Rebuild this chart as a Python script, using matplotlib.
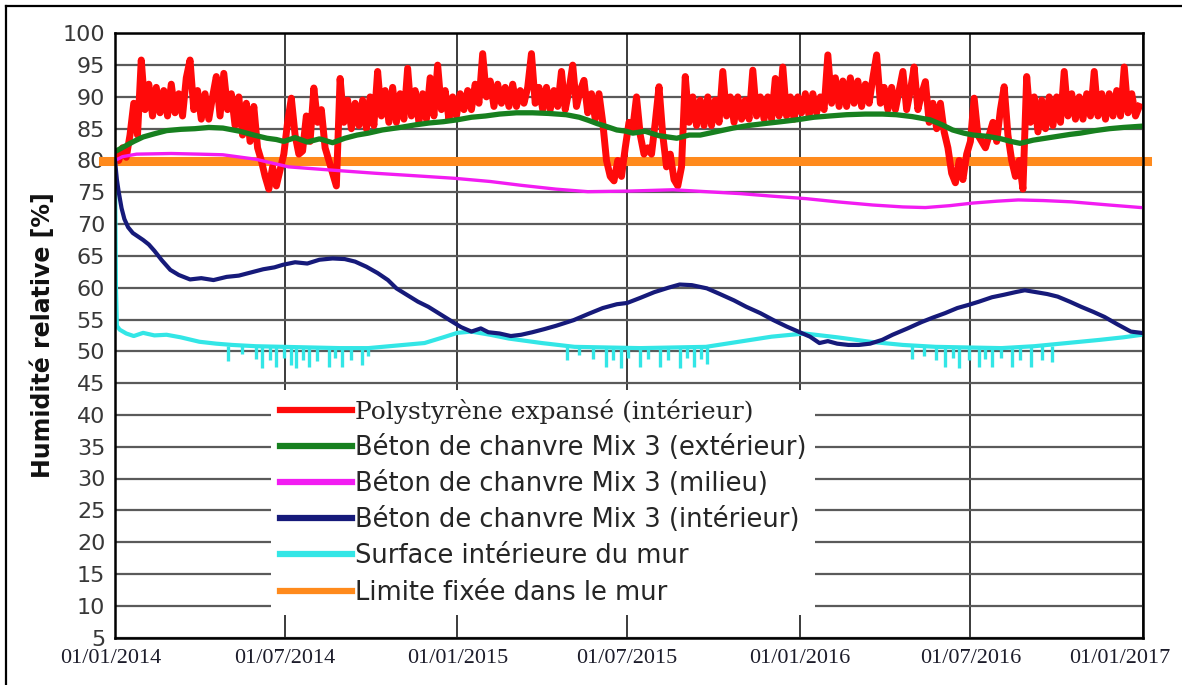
import matplotlib
matplotlib.use('Agg')
import matplotlib.pyplot as plt
import matplotlib.dates as mdates
import numpy as np
from matplotlib.lines import Line2D

# relative humidity [%], days counted from 01/01/2014
red_step = 4
polystyrene = [
    81, 80, 82, 80.5, 84, 89, 84, 95.8, 88, 92,
    87, 91.5, 87.5, 91, 87, 92, 87.5, 90.5, 87, 93,
    95.8, 88, 91, 86.5, 90.5, 86.5, 90, 93.2, 87, 93.7,
    88, 90.5, 85.5, 90, 84, 89, 83, 88.5, 82, 80,
    77.5, 75.5, 79, 76, 78.5, 81, 86, 89.8, 84, 81,
    81.5, 87, 83, 91.4, 86, 88, 82, 80, 78, 76,
    92.9, 86, 89.5, 85, 89, 85.5, 89.5, 85, 90, 85.5,
    94, 87, 91, 86, 91.5, 86, 90.5, 86.5, 94.5, 87,
    91, 86, 90.5, 86.5, 93, 87, 95, 88, 91, 86.5,
    90, 87, 90.5, 88, 91, 88, 92, 89, 96.8, 90,
    92.5, 88.5, 92, 89, 91.5, 88.5, 92, 88.5, 91, 89,
    91.5, 96.8, 89, 91.5, 88, 91.5, 88, 91, 88.5, 94,
    88, 91, 95, 88.5, 91, 92.6, 87.5, 90.5, 86.5, 90.5,
    86, 80, 77.5, 76.8, 80, 77.5, 82, 86, 85, 90,
    84, 81, 82, 81, 86, 91.6, 84, 79, 81, 77,
    76, 79, 93.2, 86, 90, 85.5, 89.5, 85.5, 90, 85.5,
    89.5, 86, 94, 87, 90, 86, 90, 86.5, 89.5, 86.5,
    94.2, 87, 90, 86.5, 90, 86.5, 92.9, 87, 94.7, 87,
    90, 86.5, 90, 87.5, 90.5, 87, 90.5, 87.5, 90, 88,
    96.6, 89, 93, 88.5, 92.5, 88.5, 93, 89, 92.5, 88.5,
    92, 89, 93, 96.6, 89, 91.5, 88, 91.5, 88, 91,
    94, 88, 91, 94.7, 88, 90.5, 92.4, 86, 89, 85,
    89, 84.5, 82, 78, 76.5, 80, 77, 81, 83, 89.8,
    84, 83, 82, 84, 86, 83, 88, 91.6, 84, 80,
    77.5, 80, 75.5, 93.2, 86, 90, 84.5, 89.5, 85, 90,
    85.5, 90, 86, 94, 87, 90.5, 86.5, 90, 86.5, 90.5,
    87, 94, 87, 90.5, 86.5, 90.5, 87, 91, 87, 94.7,
    87.5, 90.5, 87, 88.5,
]

chanvre_ext = [
    (0, 81.4), (10, 82.2), (20, 83.0), (30, 83.7), (42, 84.2), (55, 84.7), (70, 84.9),
    (85, 85.0), (100, 85.2), (115, 85.1), (133, 84.6), (148, 84.0), (162, 83.5), (172, 83.3),
    (180, 83.0), (192, 83.6), (205, 82.9), (218, 83.4), (232, 82.8), (245, 83.5), (258, 84.0),
    (270, 84.3), (285, 84.8), (304, 85.2), (320, 85.6), (335, 85.9), (350, 86.1), (365, 86.4),
    (380, 86.8), (395, 87.0), (410, 87.3), (428, 87.5), (445, 87.5), (462, 87.4), (481, 87.2),
    (495, 86.8), (505, 86.3), (514, 85.8), (525, 85.3), (535, 84.8), (545, 84.6), (552, 84.3),
    (565, 84.6), (580, 83.9), (599, 83.5), (612, 84.0), (624, 84.0), (640, 84.5), (659, 85.1),
    (675, 85.5), (692, 85.8), (710, 86.1), (727, 86.4), (745, 86.8), (762, 87.0), (780, 87.2),
    (800, 87.3), (818, 87.3), (833, 87.2), (850, 86.9), (869, 86.4), (882, 85.6), (893, 84.8),
    (905, 84.3), (915, 84.0), (930, 83.8), (945, 83.4), (955, 83.0), (965, 82.7), (979, 83.2),
    (992, 83.5), (1005, 83.8), (1018, 84.1), (1029, 84.3), (1045, 84.7), (1060, 85.0),
    (1075, 85.2), (1095, 85.4),
]

chanvre_mil = [
    (0, 80.0), (8, 80.6), (23, 81.0), (60, 81.1), (90, 81.0), (115, 80.9), (150, 80.2),
    (185, 79.0), (230, 78.5), (277, 78.0), (320, 77.6), (362, 77.2), (400, 76.7), (433, 76.1),
    (470, 75.5), (504, 75.1), (550, 75.2), (595, 75.4), (630, 75.1), (666, 74.8), (700, 74.4),
    (737, 74.0), (770, 73.5), (808, 73.0), (840, 72.7), (864, 72.6), (890, 72.9), (914, 73.3),
    (940, 73.6), (963, 73.8), (990, 73.7), (1020, 73.5), (1060, 73.0), (1094, 72.6),
]

chanvre_int = [
    (0, 80), (2, 77), (4, 75), (7, 72.5), (10, 70.8), (14, 69.5), (19, 68.6), (25, 68.0),
    (30, 67.5), (36, 66.8), (42, 65.8), (50, 64.3), (59, 62.8), (68, 62.0), (80, 61.3),
    (92, 61.5), (105, 61.2), (119, 61.7), (132, 61.9), (145, 62.4), (158, 62.9), (170, 63.2),
    (179, 63.6), (192, 64.0), (205, 63.8), (218, 64.4), (232, 64.6), (245, 64.5), (256, 64.1),
    (268, 63.3), (280, 62.3), (291, 61.2), (300, 59.9), (312, 58.8), (323, 57.8), (334, 57.0),
    (346, 55.9), (358, 54.8), (369, 53.8), (380, 53.1), (390, 53.6), (398, 53.0), (410, 52.8),
    (422, 52.4), (433, 52.6), (445, 53.0), (458, 53.5), (470, 54.0), (489, 54.9), (505, 55.9),
    (520, 56.8), (535, 57.4), (546, 57.6), (560, 58.4), (575, 59.3), (590, 60.0), (602, 60.5),
    (615, 60.4), (631, 59.9), (645, 59.0), (660, 58.0), (673, 57.0), (688, 56.0), (702, 54.9),
    (716, 53.9), (730, 53.0), (741, 52.3), (751, 51.3), (760, 51.6), (770, 51.2), (782, 51.0),
    (793, 51.0), (805, 51.2), (818, 51.8), (829, 52.6), (845, 53.6), (860, 54.6), (872, 55.3),
    (885, 56.0), (898, 56.8), (910, 57.3), (921, 57.8), (935, 58.5), (948, 58.9), (960, 59.3),
    (970, 59.6), (982, 59.3), (994, 59.0), (1005, 58.6), (1018, 57.8), (1030, 57.0),
    (1043, 56.2), (1055, 55.4), (1068, 54.3), (1083, 53.1), (1094, 52.9),
]

surface = [
    (0, 80), (1, 60), (2, 54), (5, 53.4), (12, 52.8), (20, 52.4), (30, 52.9), (42, 52.5),
    (55, 52.6), (70, 52.2), (90, 51.5), (108, 51.2), (125, 51.0), (150, 50.8), (180, 50.7),
    (210, 50.6), (240, 50.5), (270, 50.5), (300, 50.9), (330, 51.3), (350, 52.2), (365, 52.9),
    (380, 53.1), (400, 52.6), (420, 52.0), (455, 51.3), (490, 50.7), (525, 50.6), (560, 50.5),
    (595, 50.6), (630, 50.7), (665, 51.5), (700, 52.3), (735, 52.8), (770, 52.2), (805, 51.5),
    (840, 51.0), (875, 50.7), (910, 50.6), (945, 50.5), (980, 50.8), (1015, 51.3), (1050, 51.8),
    (1075, 52.2), (1095, 52.6),
]
# short downward dips of the wall surface humidity in summer
surface_dip_days = [121, 135, 150, 157, 165, 172, 180, 188, 193, 200, 207, 215, 228, 235, 242, 252, 263, 270,
                    482, 495, 510, 524, 531, 539, 547, 560, 568, 581, 590, 602, 610, 617, 625, 631,
                    850, 862, 875, 885, 893, 900, 910, 921, 928, 935, 945, 956, 965, 977, 988, 999]
surface_dip_low = [48.5, 49.5, 48.8, 47.4, 48.6, 47.5, 48.9, 47.8, 47.3, 48.7, 47.5, 48.4, 47.6, 48.9, 47.5, 48.6, 47.8, 49.2,
                   48.6, 49.4, 48.8, 47.5, 48.7, 47.4, 48.9, 47.6, 48.8, 47.5, 48.6, 47.4, 48.9, 47.6, 48.8, 48.0,
                   48.8, 49.3, 48.6, 47.6, 48.9, 47.4, 48.7, 47.5, 48.8, 47.6, 48.9, 47.5, 48.6, 47.6, 48.7, 48.3]
surface_dip_top = 50.8

limite = 80

tick_labels = ['01/01/2014', '01/07/2014', '01/01/2015', '01/07/2015',
               '01/01/2016', '01/07/2016', '01/01/2017']
labels = ['Polystyrène expansé (intérieur)',
          'Béton de chanvre Mix 3 (extérieur)',
          'Béton de chanvre Mix 3 (milieu)',
          'Béton de chanvre Mix 3 (intérieur)',
          'Surface intérieure du mur',
          'Limite fixée dans le mur']
colors = ['#ff0a0a', '#17801f', '#f21cf2', '#161a7a', '#33e6e6', '#ff8a1c']

t0 = mdates.datestr2num('2014-01-01')


def dates(pairs):
    d = np.array([p[0] for p in pairs], dtype=float)
    v = np.array([p[1] for p in pairs], dtype=float)
    return t0 + d, v


fig = plt.figure(figsize=(11.82, 6.85), dpi=100)
ax = fig.add_axes([115 / 1182, 1 - 637.5 / 685, 1028 / 1182, 604.2 / 685])

ax.axhline(limite, xmin=-0.012, xmax=1.004, color=colors[5], lw=6.5, clip_on=False, zorder=2)

red_x = t0 + np.arange(len(polystyrene)) * red_step
ax.plot(red_x, polystyrene, color=colors[0], lw=5.0, zorder=3)

x, y = dates(chanvre_mil)
ax.plot(x, y, color=colors[2], lw=2.4, zorder=3)
x, y = dates(surface)
ax.plot(x, y, color=colors[4], lw=3.0, zorder=3)
ax.vlines(t0 + np.array(surface_dip_days, dtype=float), surface_dip_low, surface_dip_top,
          color=colors[4], lw=2.4, zorder=3)
x, y = dates(chanvre_int)
ax.plot(x, y, color=colors[3], lw=3.0, zorder=4)
x, y = dates(chanvre_ext)
ax.plot(x, y, color=colors[1], lw=3.8, zorder=4)

ax.set_ylim(5, 100)
ax.set_xlim(mdates.datestr2num('2014-01-01'), mdates.datestr2num('2017-01-01'))
ax.set_yticks(np.arange(5, 101, 5))
tick_pos = [mdates.datestr2num('%s-%s-%s' % (s[6:], s[3:5], s[:2])) for s in tick_labels]
ax.set_xticks(tick_pos)
ax.set_xticklabels([])
# date labels drawn by hand so the last one can sit inside the figure
shift = [-3, 0, 0, 0, 0, 0, -17]
for pos, lab, dx in zip(tick_pos, tick_labels, shift):
    ax.annotate(lab, (pos, 0), xycoords=ax.get_xaxis_transform(), xytext=(dx, -8),
                textcoords='offset points', ha='center', va='top',
                family='Liberation Serif', fontsize=16, color='#1c1c2a')
for lab in ax.get_yticklabels():
    lab.set_family('DejaVu Sans')
    lab.set_fontsize(16)
    lab.set_color('#383838')
ax.tick_params(axis='both', length=0)
ax.tick_params(axis='y', pad=7)

ax.grid(axis='y', color='#5a5a5a', lw=1.6, zorder=1)
ax.grid(axis='x', color='#1a1a1a', lw=1.2, zorder=1)
ax.set_axisbelow(True)
for sp in ax.spines.values():
    sp.set_linewidth(1.8)
    sp.set_color('black')
    sp.set_zorder(5)

ax.set_ylabel('Humidité relative [%]', family='DejaVu Sans', fontsize=17, fontweight='bold', color='#111111')
ax.yaxis.set_label_coords(-0.058, 0.5)

handles = [Line2D([0], [0], color=c, lw=4.5) for c in colors]
leg = ax.legend(handles, labels, loc='upper left', bbox_to_anchor=(0.152, 0.409),
                prop={'family': 'DejaVu Sans', 'size': 18.5}, frameon=True, facecolor='white',
                edgecolor='none', framealpha=1, fancybox=False, borderpad=0.35,
                borderaxespad=0, handlelength=2.8, handletextpad=0.1, labelspacing=0.4)
leg.set_zorder(6)
leg.get_texts()[0].set_family('DejaVu Serif')
leg.get_texts()[0].set_fontsize(18)
for txt in leg.get_texts():
    txt.set_color('#262626')

# frame around the figure (left and top edges)
fig.add_artist(Line2D([6 / 1182, 6 / 1182], [0, 1 - 6 / 685], transform=fig.transFigure, color='black', lw=1.6))
fig.add_artist(Line2D([6 / 1182, 1], [1 - 6 / 685, 1 - 6 / 685], transform=fig.transFigure, color='black', lw=1.6))

fig.savefig('out.png', dpi=100)
